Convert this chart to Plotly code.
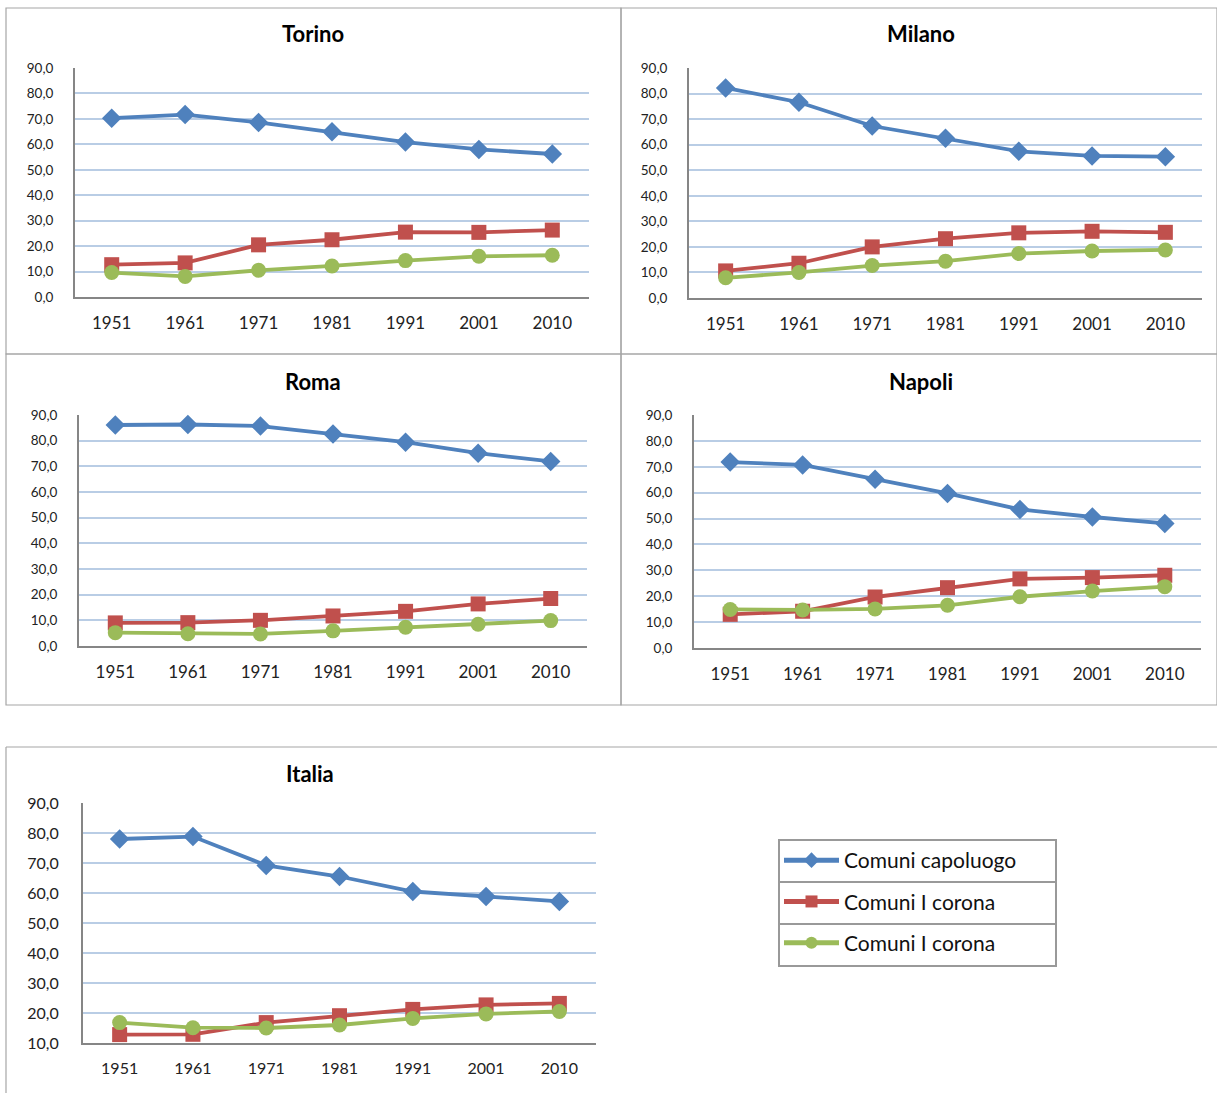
import plotly.graph_objects as go

years = ["1951", "1961", "1971", "1981", "1991", "2001", "2010"]
series_names = ["Comuni capoluogo", "Comuni I corona", "Comuni I corona"]

torino_capoluogo = [70.3, 71.7, 68.6, 64.9, 60.9, 58.0, 56.2]
torino_corona1 = [12.7, 13.4, 20.5, 22.5, 25.5, 25.4, 26.3]
torino_corona2 = [9.6, 8.1, 10.5, 12.2, 14.3, 16.0, 16.4]

milano_capoluogo = [82.2, 76.6, 67.3, 62.5, 57.4, 55.6, 55.3]
milano_corona1 = [10.6, 13.6, 20.0, 23.2, 25.5, 26.1, 25.7]
milano_corona2 = [7.9, 10.0, 12.7, 14.4, 17.4, 18.4, 18.8]

roma_capoluogo = [86.1, 86.3, 85.7, 82.6, 79.4, 75.1, 71.9]
roma_corona1 = [9.0, 9.1, 10.0, 11.7, 13.5, 16.4, 18.5]
roma_corona2 = [5.2, 4.8, 4.7, 5.9, 7.3, 8.5, 9.9]

napoli_capoluogo = [71.8, 70.7, 65.2, 59.7, 53.5, 50.6, 48.1]
napoli_corona1 = [13.0, 14.2, 19.7, 23.3, 26.7, 27.2, 28.1]
napoli_corona2 = [14.9, 14.7, 15.1, 16.5, 19.8, 22.0, 23.7]

italia_capoluogo = [78.0, 78.8, 69.2, 65.5, 60.5, 58.8, 57.2]
italia_corona1 = [12.8, 12.9, 16.8, 19.1, 21.2, 22.7, 23.2]
italia_corona2 = [16.8, 15.1, 15.0, 16.0, 18.2, 19.7, 20.5]

panel_titles = ["Torino", "Milano", "Roma", "Napoli", "Italia"]
y_ticks_main = [0, 10, 20, 30, 40, 50, 60, 70, 80, 90]
y_ticks_italia = [10, 20, 30, 40, 50, 60, 70, 80, 90]

W, H = 1217, 1093
FONT = "Lato, Calibri, Carlito, sans-serif"
COLORS = ["#4F81BD", "#C0504D", "#9BBB59"]
SYMBOLS = ["diamond", "square", "circle"]
MSIZE = [15, 15, 15]

panels = [
    (torino_capoluogo, torino_corona1, torino_corona2),
    (milano_capoluogo, milano_corona1, milano_corona2),
    (roma_capoluogo, roma_corona1, roma_corona2),
    (napoli_capoluogo, napoli_corona1, napoli_corona2),
    (italia_capoluogo, italia_corona1, italia_corona2),
]

# plot areas in pixels: left, right, top, bottom
areas = [
    (75, 589, 68, 297),
    (689, 1202, 68, 298),
    (79, 587, 415, 646),
    (694, 1201, 415, 648),
    (83, 596, 803, 1043),
]
title_pos = [(313, 33), (921, 33), (313, 381), (921, 381), (310, 773)]


def px(x):
    return x / W


def py(y):
    return 1 - y / H


fig = go.Figure()
layout = {}
for i, (data, area) in enumerate(zip(panels, areas)):
    n = "" if i == 0 else str(i + 1)
    l, r, t, b = area
    is_italia = i == 4
    for k in range(3):
        fig.add_trace(go.Scatter(
            x=years, y=data[k], name=series_names[k],
            mode="lines+markers",
            line=dict(color=COLORS[k], width=3.8),
            marker=dict(symbol=SYMBOLS[k], size=MSIZE[k], color=COLORS[k]),
            xaxis="x" + n, yaxis="y" + n,
            showlegend=is_italia, legendgroup="g%d" % k,
            cliponaxis=False,
        ))
    layout["xaxis" + n] = dict(
        domain=[px(l), px(r)], anchor="y" + n, type="category",
        range=[-0.5, 6.5], showgrid=False, showline=True,
        linecolor="#868686", linewidth=2, ticks="",
        ticklabelstandoff=10 if not is_italia else 10,
        tickfont=dict(family=FONT, size=17 if not is_italia else 16, color="#222"),
        fixedrange=True, automargin=False,
    )
    layout["yaxis" + n] = dict(
        domain=[py(b), py(t)], anchor="x" + n,
        range=[10, 90] if is_italia else [0, 90],
        tickvals=y_ticks_italia if is_italia else y_ticks_main,
        tickformat=".1f", showgrid=True, gridcolor="#B9CDE5", gridwidth=1.5,
        showline=True, linecolor="#868686", linewidth=2, zeroline=False,
        ticks="", ticklabelstandoff=17 if not is_italia else 19,
        tickfont=dict(family=FONT, size=16 if is_italia else 13.5, color="#222"),
        fixedrange=True, automargin=False,
    )

annotations = []
for title, (tx, ty) in zip(panel_titles, title_pos):
    annotations.append(dict(
        text="<b>%s</b>" % title, x=px(tx), y=py(ty), xref="paper", yref="paper",
        showarrow=False, xanchor="center", yanchor="middle",
        font=dict(family=FONT, size=22, color="#000"),
    ))

shapes = []
border = dict(color="#A6A6A6", width=1.2)
# panel borders
for (x0, x1, y0, y1) in [(6, 621, 8, 354), (621, 1217, 8, 354),
                         (6, 621, 354, 705), (621, 1217, 354, 705)]:
    shapes.append(dict(type="rect", xref="paper", yref="paper",
                       x0=px(x0), x1=px(x1), y0=py(y1), y1=py(y0), line=border))
shapes.append(dict(type="line", xref="paper", yref="paper",
                   x0=px(6), x1=px(1217), y0=py(747), y1=py(747), line=border))
shapes.append(dict(type="line", xref="paper", yref="paper",
                   x0=px(6), x1=px(6), y0=py(747), y1=py(1093), line=border))
# legend box with row dividers
lb = dict(color="#999999", width=2)
shapes.append(dict(type="rect", xref="paper", yref="paper",
                   x0=px(779), x1=px(1056), y0=py(966), y1=py(840), line=lb))
for yy in (882, 924):
    shapes.append(dict(type="line", xref="paper", yref="paper",
                       x0=px(779), x1=px(1056), y0=py(yy), y1=py(yy), line=lb))

fig.update_layout(
    width=W, height=H, autosize=False,
    margin=dict(l=0, r=0, t=0, b=0, pad=0, autoexpand=False),
    paper_bgcolor="white", plot_bgcolor="white",
    separators=",.",
    showlegend=True,
    legend=dict(x=px(779), y=py(840), xanchor="left", yanchor="top",
                bgcolor="rgba(0,0,0,0)", borderwidth=0,
                font=dict(family=FONT, size=21, color="#111"),
                traceorder="grouped", tracegroupgap=11, itemwidth=55,
                itemsizing="constant"),
    annotations=annotations, shapes=shapes,
    **layout,
)

fig.write_html("out.html", config={"displayModeBar": False},
               post_script="document.body.style.margin='0px';")
